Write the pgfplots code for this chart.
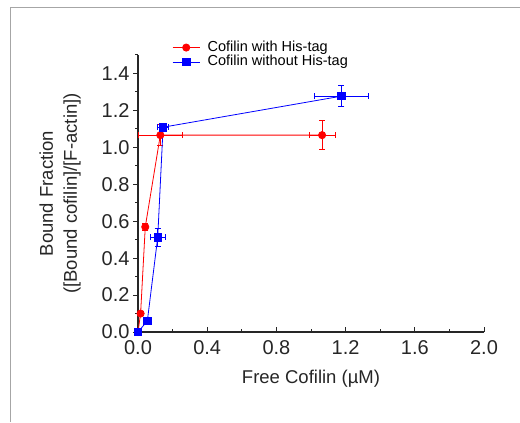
\documentclass[border=0pt]{standalone}
\usepackage{fontspec}
\setmainfont{Liberation Sans}
\usepackage{pgfplots}
\pgfplotsset{compat=1.18}

% x y ex ey
\pgfplotstableread{
x      y      ex     ey
0      0      0      0
0.015  0.100  0      0.010
0.042  0.569  0.004  0.020
0.129  1.066  0.125  0.057
1.064  1.066  0.076  0.078
}\withtag
\pgfplotstableread{
x      y      ex     ey
0      0      0      0
0.054  0.060  0      0
0.114  0.513  0.042  0.047
0.145  1.109  0.030  0.020
1.175  1.277  0.154  0.058
}\withouttag

\begin{document}
\begin{tikzpicture}[x=1bp,y=1bp]
\path[use as bounding box] (0,0) rectangle (520,422);
\draw[gray!70, line width=1bp] (10,0) -- (10,414) -- (520,414);
\begin{axis}[
  at={(138bp,90bp)}, anchor=south west,
  scale only axis, width=346bp, height=277bp,
  xmin=0, xmax=2.0, ymin=0, ymax=1.5,
  axis lines*=left,
  axis line style={line width=1.2bp, black!85},
  xtick={0,0.4,...,2.0}, minor xtick={0.2,0.6,...,1.8},
  ytick={0,0.2,...,1.4}, minor ytick={0.1,0.3,...,1.5},
  xtick align=inside, ytick align=outside,
  major tick length=5bp, minor tick length=3bp,
  every tick/.style={line width=1bp, black!85},
  tick label style={font=\fontsize{20bp}{22bp}\selectfont, black!85},
  xticklabel style={yshift=-5bp, /pgf/number format/.cd, fixed, fixed zerofill, precision=1},
  yticklabel style={/pgf/number format/.cd, fixed, fixed zerofill, precision=1},
  /pgf/number format/assume math mode=true,
  xlabel={Free Cofilin (µM)},
  ylabel={Bound Fraction\\([Bound cofilin]/[F-actin])},
  label style={font=\fontsize{18.5bp}{24bp}\selectfont, black!85},
  ylabel style={align=center, at={(axis description cs:-0.225,0.5)}, anchor=center},
  xlabel style={at={(axis description cs:0.5,-0.17)}, anchor=center},
  clip=false,
  legend style={at={(axis description cs:0.09,1.06)}, anchor=north west,
    draw=none, fill=none, font=\fontsize{14.5bp}{15bp}\selectfont,
    row sep=0.5bp, nodes={inner sep=0.5bp, text height=10bp, text depth=3bp}},
  legend cell align=left,
  legend image code/.code={\draw[mark repeat=2,mark phase=2,#1]
    plot coordinates {(0bp,0bp) (13.5bp,0bp) (27bp,0bp)};
    \path (34bp,0bp);},
]
\addplot[red, line width=0.8bp, mark=*, mark size=3.6bp,
  mark options={solid, fill=red},
  error bars/.cd, x dir=both, x explicit, y dir=both, y explicit,
  error bar style={line width=0.8bp},
  error mark options={rotate=90, mark size=3bp, line width=0.8bp}]
  table[x=x, y=y, x error=ex, y error=ey] {\withtag};
\addlegendentry{Cofilin with His-tag}
\addplot[blue, line width=0.8bp, mark=square*, mark size=3.7bp,
  mark options={solid, fill=blue},
  error bars/.cd, x dir=both, x explicit, y dir=both, y explicit,
  error bar style={line width=0.8bp},
  error mark options={rotate=90, mark size=3bp, line width=0.8bp}]
  table[x=x, y=y, x error=ex, y error=ey] {\withouttag};
\addlegendentry{Cofilin without His-tag}
\end{axis}
\end{tikzpicture}
\end{document}
